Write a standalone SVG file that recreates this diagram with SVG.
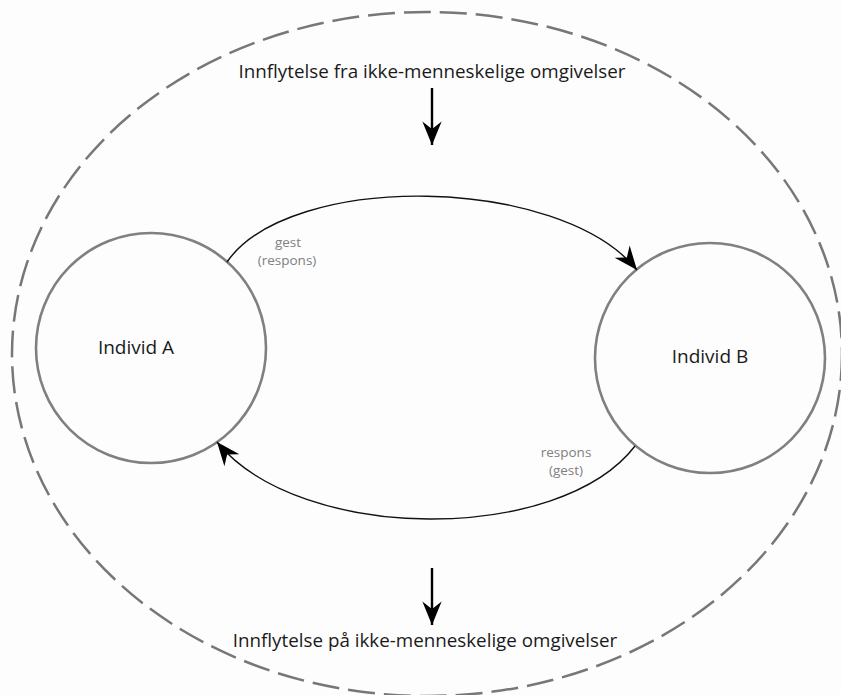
<svg xmlns="http://www.w3.org/2000/svg" width="841" height="695" viewBox="0 0 841 695">
  <defs>
    <style>
      .boundary { fill: none; stroke: #777777; stroke-width: 2.5; stroke-dasharray: 27 9; }
      .node circle { fill: none; stroke: #808080; stroke-width: 2.6; }
      .node text { font-family: "Open Sans", "Noto Sans", sans-serif; font-size: 19px; fill: #1a1a1a; text-anchor: middle; }
      .flow { fill: none; stroke: #111111; stroke-width: 1.4; }
      .influence { fill: none; stroke: #000000; stroke-width: 2.4; }
      .caption { font-family: "Open Sans", "Noto Sans", sans-serif; font-size: 18.8px; fill: #1a1a1a; text-anchor: middle; }
      .label { font-family: "Open Sans", "Noto Sans", sans-serif; font-size: 13.5px; fill: #808080; text-anchor: middle; }
    </style>
    <marker id="barb" markerUnits="userSpaceOnUse" markerWidth="30" markerHeight="30" viewBox="-24 -12 28 24" refX="0" refY="0" orient="auto">
      <path d="M0,0 L-22,-9 L-15,0 L-22,9 Z" fill="#000000"/>
    </marker>
  </defs>

  <rect x="0" y="0" width="841" height="695" fill="#fdfdfd"/>

  <!-- surrounding non-human environment -->
  <ellipse class="boundary" cx="427" cy="354" rx="415" ry="342"/>

  <text class="caption" x="432" y="78">Innflytelse fra ikke-menneskelige omgivelser</text>
  <text class="caption" x="425" y="647">Innflytelse på ikke-menneskelige omgivelser</text>

  <g id="individ-a" class="node">
    <circle cx="151" cy="348" r="115"/>
    <text x="136" y="354">Individ A</text>
  </g>

  <g id="individ-b" class="node">
    <circle cx="710" cy="358" r="115"/>
    <text x="710" y="363">Individ B</text>
  </g>

  <g id="connectors">
    <path class="influence" d="M432,88 L432,145" marker-end="url(#barb)"/>
    <path class="influence" d="M432,568 L432,625" marker-end="url(#barb)"/>
    <path class="flow" d="M227,262 C290,171 560,175 637,270" marker-end="url(#barb)"/>
    <path class="flow" d="M635,446 C560,544 300,544 217,442" marker-end="url(#barb)"/>
  </g>

  <g id="labels">
    <text class="label" x="288" y="247">gest</text>
    <text class="label" x="287" y="265">(respons)</text>
    <text class="label" x="566" y="457">respons</text>
    <text class="label" x="566" y="475">(gest)</text>
  </g>
</svg>
